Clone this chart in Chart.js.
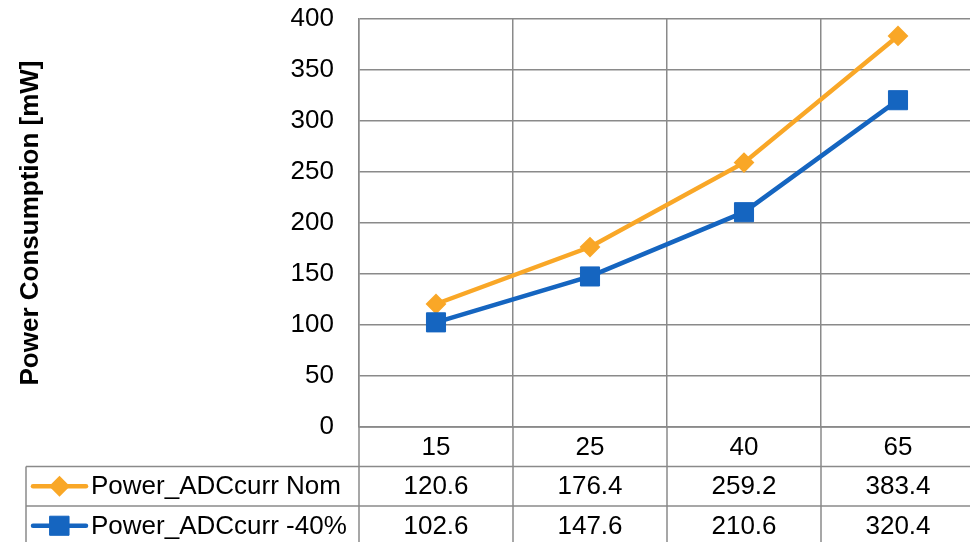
<!DOCTYPE html>
<html>
<head>
<meta charset="utf-8">
<script src="https://cdn.jsdelivr.net/npm/chart.js@4/dist/chart.umd.min.js"></script>
<style>
  html, body { margin: 0; padding: 0; background: #fff; overflow: hidden; }
  #chart { display: block; }
</style>
</head>
<body>
<canvas id="chart" width="976" height="542"></canvas>
<script>
// Temperature categories and measured power per series
const categories = ['15', '25', '40', '65'];
const nomValues = [120.6, 176.4, 259.2, 383.4];
const reducedValues = [102.6, 147.6, 210.6, 320.4];
const seriesNames = ['Power_ADCcurr Nom', 'Power_ADCcurr -40%'];
const yTicks = [0, 50, 100, 150, 200, 250, 300, 350, 400];

const ORANGE = '#F9A727';
const BLUE = '#1565C0';
const GRID = '#8a8a8a';
const FONT = 'Liberation Sans, Arial, Helvetica, sans-serif';
const TEXT_SIZE = 26;

const series = [
  { label: seriesNames[0], data: nomValues, color: ORANGE, style: 'rectRot', radius: 9, bw: 2, order: 1 },
  { label: seriesNames[1], data: reducedValues, color: BLUE, style: 'rect', radius: 13.5, bw: 1, order: 0 }
];

// Excel-style data table beneath the plot, aligned to the category columns
const dataTable = {
  id: 'dataTable',
  afterDraw(chart) {
    const { ctx, chartArea: ca } = chart;
    const x = chart.scales.x;
    const rowH = 39.5;
    const tableLeft = 26;
    const rows = [ca.bottom, ca.bottom + rowH, ca.bottom + 2 * rowH, ca.bottom + 3 * rowH];
    const n = categories.length;
    const centers = categories.map((_, i) => x.getPixelForValue(i));
    const bounds = [ca.left];
    for (let i = 0; i < n - 1; i++) bounds.push((centers[i] + centers[i + 1]) / 2);
    bounds.push(ca.right);

    ctx.save();
    ctx.strokeStyle = GRID;
    ctx.lineWidth = 1.5;
    ctx.beginPath();
    // horizontal rules
    ctx.moveTo(ca.left, rows[0]); ctx.lineTo(ca.right, rows[0]);
    ctx.moveTo(tableLeft, rows[1]); ctx.lineTo(ca.right, rows[1]);
    ctx.moveTo(tableLeft, rows[2]); ctx.lineTo(ca.right, rows[2]);
    ctx.moveTo(tableLeft, rows[3]); ctx.lineTo(ca.right, rows[3]);
    // vertical rules
    ctx.moveTo(tableLeft, rows[1]); ctx.lineTo(tableLeft, rows[3]);
    bounds.forEach(b => { ctx.moveTo(b, rows[0]); ctx.lineTo(b, rows[3]); });
    ctx.stroke();

    ctx.fillStyle = '#000';
    ctx.font = TEXT_SIZE + 'px ' + FONT;
    ctx.textAlign = 'center';
    ctx.textBaseline = 'middle';
    categories.forEach((c, i) => ctx.fillText(c, centers[i], rows[0] + rowH / 2 + 1));

    series.forEach((s, r) => {
      const cy = rows[r + 1] + rowH / 2 + 1;
      s.data.forEach((v, i) => ctx.fillText(v.toFixed(1), centers[i], cy));
      // legend key: line with marker
      ctx.strokeStyle = s.color;
      ctx.lineWidth = 4.5;
      ctx.lineCap = 'round';
      ctx.beginPath();
      ctx.moveTo(33, cy - 1); ctx.lineTo(86, cy - 1);
      ctx.stroke();
      ctx.fillStyle = s.color;
      ctx.strokeStyle = s.color;
      ctx.lineWidth = s.bw;
      Chart.helpers.drawPoint(ctx, { pointStyle: s.style, radius: s.radius, rotation: 0, borderWidth: s.bw }, 59.5, cy - 1);
      ctx.fillStyle = '#000';
      ctx.textAlign = 'left';
      ctx.fillText(s.label, 91, cy);
      ctx.textAlign = 'center';
    });
    ctx.restore();
  }
};

new Chart(document.getElementById('chart'), {
  type: 'line',
  data: {
    labels: categories,
    datasets: series.map(s => ({
      label: s.label,
      data: s.data,
      order: s.order,
      borderColor: s.color,
      backgroundColor: s.color,
      borderWidth: 4.5,
      tension: 0,
      pointStyle: s.style,
      pointRadius: s.radius,
      pointBorderWidth: s.bw,
      pointBackgroundColor: s.color,
      pointBorderColor: s.color
    }))
  },
  options: {
    responsive: false,
    animation: false,
    devicePixelRatio: 1,
    layout: { autoPadding: false, padding: { top: 19, right: 1, bottom: 115, left: 0 } },
    plugins: { legend: { display: false }, tooltip: { enabled: false } },
    scales: {
      x: {
        type: 'category',
        offset: true,
        ticks: { display: false },
        grid: { display: true, offset: true, color: GRID, lineWidth: 1.5, drawTicks: false },
        border: { display: false }
      },
      y: {
        min: 0,
        max: 400,
        afterBuildTicks(scale) { scale.ticks = yTicks.map(v => ({ value: v })); },
        afterFit(scale) {
          scale.width = 359;
          scale.paddingTop = 0;
          scale.paddingBottom = 0;
        },
        ticks: {
          color: '#000',
          padding: 25,
          font: { family: FONT, size: TEXT_SIZE }
        },
        grid: { color: GRID, lineWidth: 1.5, drawTicks: false },
        border: { display: true, color: GRID, width: 1.5 },
        title: {
          display: true,
          text: 'Power Consumption [mW]',
          color: '#000',
          font: { family: FONT, size: 26, weight: 'bold' },
          padding: { top: 15, bottom: 0 }
        }
      }
    }
  },
  plugins: [dataTable]
});
</script>
</body>
</html>
